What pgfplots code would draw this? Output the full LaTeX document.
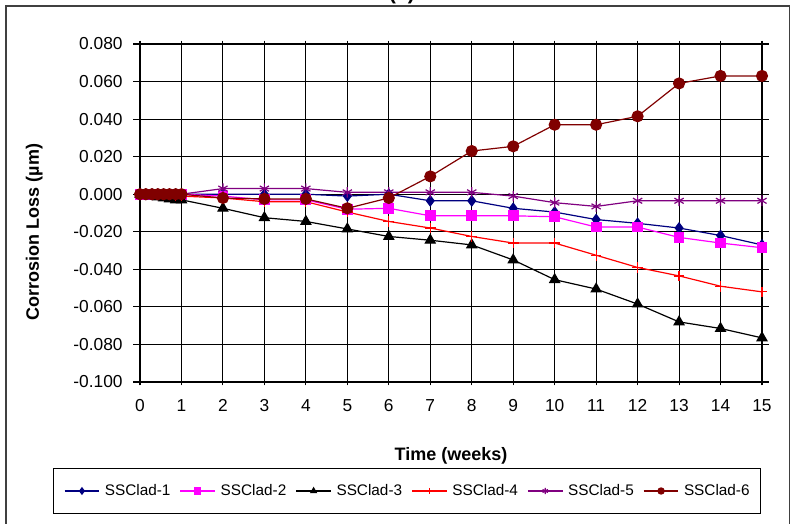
\documentclass[border=0pt]{standalone}
\usepackage{pgfplots}
\pgfplotsset{compat=1.18}
\usepackage{fontspec}
\setmainfont{Liberation Sans}
\definecolor{cNavy}{RGB}{0,0,128}
\definecolor{cMag}{RGB}{255,0,255}
\definecolor{cRed}{RGB}{255,0,0}
\definecolor{cPurp}{RGB}{128,0,128}
\definecolor{cDRed}{RGB}{128,0,0}
\begin{document}
\begin{tikzpicture}
\useasboundingbox (0,0) rectangle (592.5pt,393pt);
\clip (0,0) rectangle (592.5pt,393pt);
\draw[line width=1.1pt, black!75] (4.5pt,-10pt) rectangle (592.2pt,388.5pt);
\node[font=\bfseries\fontsize{16}{18}\selectfont, anchor=base] at (301.5pt,393.6pt) {(a)};
\begin{axis}[
  at={(105pt,106.5pt)}, anchor=south west,
  scale only axis, width=466.5pt, height=253.5pt,
  xmin=0, xmax=15, ymin=-0.1, ymax=0.08,
  xtick={0,1,...,15},
  ytick={-0.1,-0.08,-0.06,-0.04,-0.02,0,0.02,0.04,0.06,0.08},
  grid=major,
  major grid style={black, line width=0.7pt},
  axis line style={black, line width=0.8pt},
  tick style={black, line width=0.8pt},
  major tick length=5pt,
  xtick align=center,
  ytick align=outside,
  /pgf/number format/assume math mode=true,
  ticklabel style={font=\fontsize{13}{15}\selectfont},
  xticklabel style={yshift=-7pt},
  yticklabel style={xshift=-4.5pt, /pgf/number format/.cd, fixed, fixed zerofill, precision=3},
  xlabel={Time (weeks)},
  ylabel={Corrosion Loss (µm)},
  label style={font=\bfseries\fontsize{13.5}{16}\selectfont},
  xlabel style={at={(axis description cs:0.5,-0.2308)}, anchor=base},
  ylabel style={at={(axis description cs:-0.170,0.444)}, anchor=center},
  legend style={at={(axis description cs:0.429,-0.3225)}, anchor=center,
    draw=black, line width=0.8pt, legend columns=6,
    font=\fontsize{11.5}{13}\selectfont,
    inner xsep=8pt, inner ysep=10pt,
    nodes={inner xsep=0pt, inner ysep=2pt},
    /tikz/every odd column/.append style={column sep=3.75pt},
    /tikz/every even column/.append style={column sep=7pt}},
  legend image code/.code={\draw[mark repeat=2,mark phase=2,#1,mark size=2.3pt] plot coordinates {(0pt,0pt) (13pt,0pt) (26pt,0pt)};},
  every axis plot/.append style={line width=0.9pt},
]
\addplot[color=cNavy, mark=diamond*, mark size=3.8pt, mark options={solid, fill=cNavy}] coordinates {
(0,0) (0.14,0) (0.29,0) (0.43,0) (0.57,0) (0.71,0) (0.86,0) (1,0)
(2,0) (3,0) (4,0) (5,-0.001) (6,0) (7,-0.0035) (8,-0.0035) (9,-0.0075) (10,-0.0095)
(11,-0.0135) (12,-0.0155) (13,-0.018) (14,-0.022) (15,-0.027)};
\addlegendentry{SSClad-1}
\addplot[color=cMag, mark=square*, mark size=3.6pt, mark options={solid, fill=cMag}] coordinates {
(0,0) (0.14,0) (0.29,0) (0.43,0) (0.57,0) (0.71,0) (0.86,0) (1,0)
(2,-0.001) (3,-0.003) (4,-0.003) (5,-0.008) (6,-0.0075) (7,-0.0115) (8,-0.0115) (9,-0.0115) (10,-0.012)
(11,-0.0175) (12,-0.0175) (13,-0.023) (14,-0.026) (15,-0.0285)};
\addlegendentry{SSClad-2}
\addplot[color=black, mark=triangle*, mark size=4.2pt, mark options={solid, fill=black}] coordinates {
(0,0) (0.14,-0.0005) (0.29,-0.001) (0.43,-0.0015) (0.57,-0.002) (0.71,-0.0025) (0.86,-0.003) (1,-0.003)
(2,-0.0075) (3,-0.0125) (4,-0.0145) (5,-0.0185) (6,-0.0225) (7,-0.0245) (8,-0.027) (9,-0.035) (10,-0.0455)
(11,-0.0505) (12,-0.0585) (13,-0.068) (14,-0.0715) (15,-0.0765)};
\addlegendentry{SSClad-3}
\addplot[color=cRed, mark=+, mark size=4pt, mark options={solid}] coordinates {
(0,0) (0.14,0) (0.29,0) (0.43,-0.0005) (0.57,-0.0005) (0.71,-0.0005) (0.86,-0.001) (1,-0.001)
(2,-0.002) (3,-0.004) (4,-0.004) (5,-0.0095) (6,-0.0145) (7,-0.018) (8,-0.0225) (9,-0.026) (10,-0.026)
(11,-0.0325) (12,-0.039) (13,-0.0435) (14,-0.049) (15,-0.052)};
\addlegendentry{SSClad-4}
\addplot[color=cPurp, mark=asterisk, mark size=4pt, mark options={solid}] coordinates {
(0,0) (0.14,0) (0.29,0) (0.43,0) (0.57,0) (0.71,0) (0.86,0) (1,0)
(2,0.003) (3,0.003) (4,0.003) (5,0.001) (6,0.001) (7,0.001) (8,0.001) (9,-0.001) (10,-0.0045)
(11,-0.0065) (12,-0.0035) (13,-0.0035) (14,-0.0035) (15,-0.0035)};
\addlegendentry{SSClad-5}
\addplot[color=cDRed, mark=*, mark size=4.1pt, mark options={solid, fill=cDRed}] coordinates {
(0,0) (0.14,0) (0.29,0) (0.43,0) (0.57,0) (0.71,0) (0.86,0) (1,0)
(2,-0.002) (3,-0.0025) (4,-0.0025) (5,-0.0075) (6,-0.002) (7,0.0095) (8,0.023) (9,0.0255) (10,0.037)
(11,0.037) (12,0.0415) (13,0.059) (14,0.063) (15,0.063)};
\addlegendentry{SSClad-6}
\end{axis}
\end{tikzpicture}
\end{document}
